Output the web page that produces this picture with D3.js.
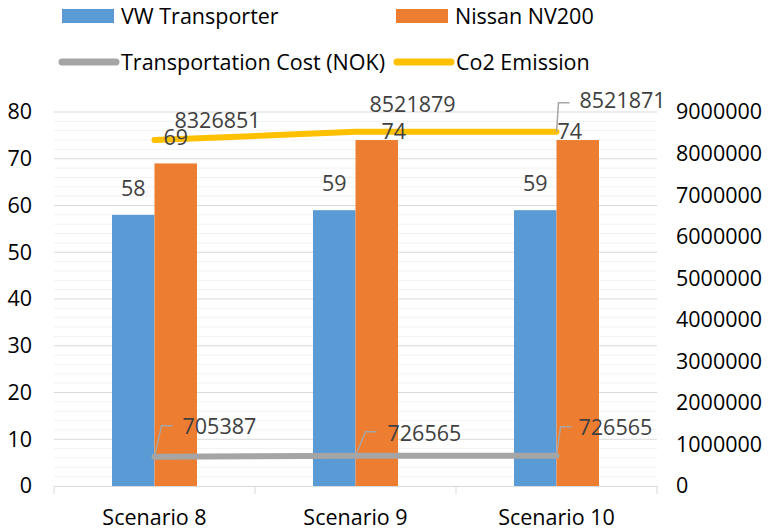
<!DOCTYPE html>
<html><head><meta charset="utf-8">
<script src="https://cdn.jsdelivr.net/npm/d3@7"></script>
<style>body{margin:0;background:#fff}svg{display:block}text{font-family:"Open Sans",sans-serif}</style>
</head><body>
<svg id="c" width="768" height="531"></svg>
<script>
const categories = ["Scenario 8", "Scenario 9", "Scenario 10"];
const vwTransporter = [58, 59, 59];
const nissanNV200 = [69, 74, 74];
const transportCost = [705387, 726565, 726565];
const co2Emission = [8326851, 8521879, 8521871];
const leftTicks = [0, 10, 20, 30, 40, 50, 60, 70, 80];
const rightTicks = [0, 1000000, 2000000, 3000000, 4000000, 5000000, 6000000, 7000000, 8000000, 9000000];
const seriesNames = ["VW Transporter", "Nissan NV200", "Transportation Cost (NOK)", "Co2 Emission"];

const svg = d3.select("#c");
const L = 54, R = 657, T = 112, B = 486;
const x = d3.scaleBand().domain(categories).range([L, R]);
const yL = d3.scaleLinear().domain([0, 80]).range([B, T]);
const yR = d3.scaleLinear().domain([0, 9000000]).range([B, T]);
const col = {vw: "#5B9BD5", ns: "#ED7D31", cost: "#A5A5A5", co2: "#FFC000", lbl: "#404040"};
const FS = 21.5;

// minor gridlines
const minor = d3.range(0, 80.01, 2).filter(v => v % 10 !== 0);
svg.append("g").selectAll("line").data(minor).join("line")
  .attr("x1", L).attr("x2", R).attr("y1", d => yL(d)).attr("y2", d => yL(d))
  .attr("stroke", "#F2F2F2").attr("stroke-width", 1);
svg.append("g").selectAll("line").data(leftTicks.filter(d => d > 0)).join("line")
  .attr("x1", L).attr("x2", R).attr("y1", d => yL(d)).attr("y2", d => yL(d))
  .attr("stroke", "#D9D9D9").attr("stroke-width", 1);

// axes
const gl = svg.append("g").attr("transform", `translate(${L},0)`)
  .call(d3.axisLeft(yL).tickValues(leftTicks).tickSize(0).tickPadding(22));
gl.select(".domain").remove();
gl.selectAll("text").attr("font-size", FS).attr("fill", "#000").attr("font-family", "Open Sans");

const gr = svg.append("g").attr("transform", `translate(${R},0)`)
  .call(d3.axisRight(yR).tickValues(rightTicks).tickFormat(d3.format("d")).tickSize(0).tickPadding(19));
gr.select(".domain").remove();
gr.selectAll("text").attr("font-size", FS).attr("fill", "#000").attr("font-family", "Open Sans");

const gb = svg.append("g").attr("transform", `translate(0,${B})`)
  .call(d3.axisBottom(x).tickSize(0).tickPadding(24));
gb.select(".domain").attr("stroke", "#D9D9D9");
gb.selectAll("text").attr("font-size", FS).attr("fill", "#000").attr("font-family", "Open Sans");
const bounds = [L, ...categories.map(c => x(c) + x.bandwidth())];
svg.append("g").selectAll("line").data(bounds).join("line")
  .attr("x1", d => d).attr("x2", d => d).attr("y1", B).attr("y2", B + 8)
  .attr("stroke", "#D9D9D9");

// bars
const barW = 42.5;
const bars = [
  {v: vwTransporter, c: col.vw, off: -barW, lift: [19, 19, 19], shift: [0, 0, 0]},
  {v: nissanNV200, c: col.ns, off: 0, lift: [18, 1, 1], shift: [0, 17, -8]}
];
bars.forEach(s => {
  svg.append("g").selectAll("rect").data(categories).join("rect")
    .attr("x", d => x(d) + x.bandwidth() / 2 + s.off)
    .attr("width", barW)
    .attr("y", (d, i) => yL(s.v[i]))
    .attr("height", (d, i) => B - yL(s.v[i]))
    .attr("fill", s.c);
});

// lines
const cx = d => x(d) + x.bandwidth() / 2;
const lineGen = vals => d3.line().x(d => cx(d)).y((d, i) => yR(vals[i]))(categories);
svg.append("path").attr("d", lineGen(transportCost)).attr("fill", "none")
  .attr("stroke", col.cost).attr("stroke-width", 6).attr("stroke-linecap", "round");
svg.append("path").attr("d", lineGen(co2Emission)).attr("fill", "none")
  .attr("stroke", col.co2).attr("stroke-width", 6).attr("stroke-linecap", "round");

// bar labels
bars.forEach(s => {
  svg.append("g").selectAll("text").data(categories).join("text")
    .attr("x", (d, i) => x(d) + x.bandwidth() / 2 + s.off + barW / 2 + s.shift[i])
    .attr("y", (d, i) => yL(s.v[i]) - s.lift[i])
    .attr("text-anchor", "middle").attr("font-size", FS).attr("fill", col.lbl)
    .text((d, i) => s.v[i]);
});

// line data labels (offsets relative to points), some with leader lines
function lineLabels(vals, offs) {
  const g = svg.append("g");
  categories.forEach((c, i) => {
    const px = cx(c), py = yR(vals[i]);
    const o = offs[i];
    if (o.leader) {
      g.append("polyline")
        .attr("points", `${px},${py} ${px + o.leader[0]},${py + o.leader[1]} ${px + o.leader[0] + 11},${py + o.leader[1]}`)
        .attr("fill", "none").attr("stroke", "#A6A6A6").attr("stroke-width", 1.5);
    }
    g.append("text").attr("x", px + o.dx).attr("y", py + o.dy)
      .attr("font-size", FS).attr("fill", col.lbl).attr("text-anchor", "start")
      .text(vals[i]);
  });
}
lineLabels(co2Emission, [
  {dx: 20, dy: -12},
  {dx: 14, dy: -20},
  {dx: 23, dy: -24, leader: [2, -29]}
]);
lineLabels(transportCost, [
  {dx: 28, dy: -23, leader: [7, -31]},
  {dx: 32, dy: -15, leader: [10, -24]},
  {dx: 22, dy: -21, leader: [4, -29]}
]);

// legend
const lg = svg.append("g");
const leg = [
  {n: seriesNames[0], c: col.vw, t: "rect", x: 62, y: 16},
  {n: seriesNames[1], c: col.ns, t: "rect", x: 396, y: 16},
  {n: seriesNames[2], c: col.cost, t: "line", x: 62, y: 62},
  {n: seriesNames[3], c: col.co2, t: "line", x: 397, y: 62}
];
leg.forEach(d => {
  if (d.t === "rect") {
    lg.append("rect").attr("x", d.x).attr("y", d.y - 7).attr("width", 52).attr("height", 14).attr("fill", d.c);
  } else {
    lg.append("line").attr("x1", d.x).attr("x2", d.x + 54).attr("y1", d.y).attr("y2", d.y)
      .attr("stroke", d.c).attr("stroke-width", 7).attr("stroke-linecap", "round");
  }
  lg.append("text").attr("x", d.x + 59).attr("y", d.y).attr("dy", "0.35em")
    .attr("font-size", FS).attr("fill", "#000").text(d.n);
});
</script>
</body></html>
